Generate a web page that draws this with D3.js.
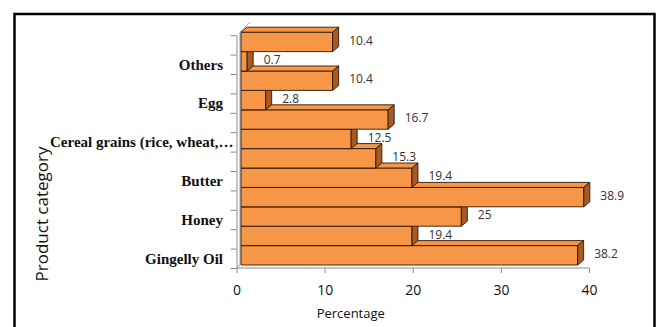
<!DOCTYPE html>
<html lang="en">
<head>
<meta charset="UTF-8">
<title>Product category by percentage</title>
<script src="https://d3js.org/d3.v7.min.js"></script>
<style>
  html, body { margin: 0; padding: 0; background: #fff; }
  svg { display: block; }
  .cat { font-family: 'Liberation Serif', 'Times New Roman', serif; font-weight: bold; font-size: 15px; fill: #111; }
  .tick text { font-family: 'Open Sans', sans-serif; font-size: 14px; fill: #111; }
  .axis path, .axis line { stroke: #8c8c8c; }
  .val { font-family: 'Open Sans', sans-serif; font-size: 12px; fill: #333; }
  .title { font-family: 'Open Sans', sans-serif; fill: #111; }
</style>
</head>
<body>
<svg id="chart" width="661" height="327"></svg>
<script>
// bottom to top, as in the chart; only every other category label is shown
const categories = ['Gingelly Oil', '', 'Honey', '', 'Butter', '', 'Cereal grains (rice, wheat,\u2026', '', 'Egg', '', 'Others', ''];
const values = [38.2, 19.4, 25, 38.9, 19.4, 15.3, 12.5, 16.7, 2.8, 10.4, 0.7, 10.4];
const xTicks = [0, 10, 20, 30, 40];

const svg = d3.select('#chart');

// outer frame
svg.append('rect')
    .attr('x', 14.5).attr('y', 14).attr('width', 640).attr('height', 400)
    .attr('fill', 'none').attr('stroke', '#000').attr('stroke-width', 2.5);

const floorY = 268;
const step = 19.4;
const x = d3.scaleLinear().domain([0, 40]).range([236.5, 589]);
const idx = d3.range(categories.length);
const y = d3.scaleBand().domain(idx).range([floorY, floorY - step * categories.length]).padding(0);
const yLin = d3.scaleLinear().domain([0, categories.length]).range([floorY, floorY - step * categories.length]);

// 3d offsets: front plane shift and bar depth
const fx = 4.5, fy = -3, dx = 6, dy = -5;

// left wall
const topY = floorY - step * categories.length + fy;
svg.append('path')
    .attr('d', `M${x(0)},${floorY} L${x(0) + 3.5},${floorY + fy} L${x(0) + 3.5},${topY} L${x(0) + 13.5},${topY - 10}`)
    .attr('fill', 'none').attr('stroke', '#a0a0a0').attr('stroke-width', 1);

// x axis
const xAxis = svg.append('g').attr('class', 'axis')
    .attr('transform', `translate(0,${floorY})`)
    .call(d3.axisBottom(x).tickValues(xTicks).tickSize(5).tickPadding(12).tickSizeOuter(0));
xAxis.select('.domain').attr('d', `M${x(0)},0H${x(40)}`);

// y axis ticks between categories
svg.append('g').attr('class', 'axis')
    .attr('transform', `translate(${x(0)},0)`)
    .call(d3.axisLeft(yLin).tickValues(d3.range(categories.length + 1)).tickFormat('').tickSize(6).tickSizeOuter(0));

// bars, drawn bottom up so each bar hides the top face of the one below
const bars = svg.append('g');
idx.forEach(function(i) {
    const x0 = x(0) + fx, x1 = x(values[i]) + fx;
    const y0 = y(i) + fy, h = y.bandwidth();
    const g = bars.append('g')
        .attr('stroke', '#2a1a0c').attr('stroke-width', 0.9).attr('stroke-linejoin', 'round');
    g.append('rect')
        .attr('x', x0).attr('y', y0).attr('width', x1 - x0).attr('height', h)
        .attr('fill', '#f79646');
    g.append('polygon')
        .attr('points', [[x0, y0], [x0 + dx, y0 + dy], [x1 + dx, y0 + dy], [x1, y0]].join(' '))
        .attr('fill', '#f79646');
    g.append('polygon')
        .attr('points', [[x1, y0], [x1 + dx, y0 + dy], [x1 + dx, y0 + dy + h], [x1, y0 + h]].join(' '))
        .attr('fill', '#a85a24');
});

// value labels
svg.append('g').selectAll('text')
    .data(idx)
    .join('text')
    .attr('class', 'val')
    .attr('x', function(i) { return x(values[i]) + 21; })
    .attr('y', function(i) { return y(i) + y.bandwidth() / 2 + fy - 1.5; })
    .attr('dy', '0.35em')
    .text(function(i) { return values[i]; });

// category labels (long ones start at a fixed left edge)
const catG = svg.append('g');
idx.filter(function(i) { return categories[i] !== ''; }).forEach(function(i) {
    const t = catG.append('text')
        .attr('class', 'cat')
        .attr('x', 223)
        .attr('y', y(i) + y.bandwidth() / 2)
        .attr('dy', '0.35em')
        .attr('text-anchor', 'end')
        .text(categories[i]);
    const w = t.node().getComputedTextLength();
    if (223 - w < 50) t.attr('x', 50).attr('text-anchor', 'start');
});

// axis titles
svg.append('text')
    .attr('class', 'title')
    .attr('x', x(20) - 62).attr('y', 318)
    .attr('text-anchor', 'middle')
    .style('font-size', '13px')
    .text('Percentage');

svg.append('text')
    .attr('class', 'title')
    .attr('transform', 'translate(48,214) rotate(-90)')
    .attr('text-anchor', 'middle')
    .style('font-size', '17px')
    .text('Product category');
</script>
</body>
</html>
